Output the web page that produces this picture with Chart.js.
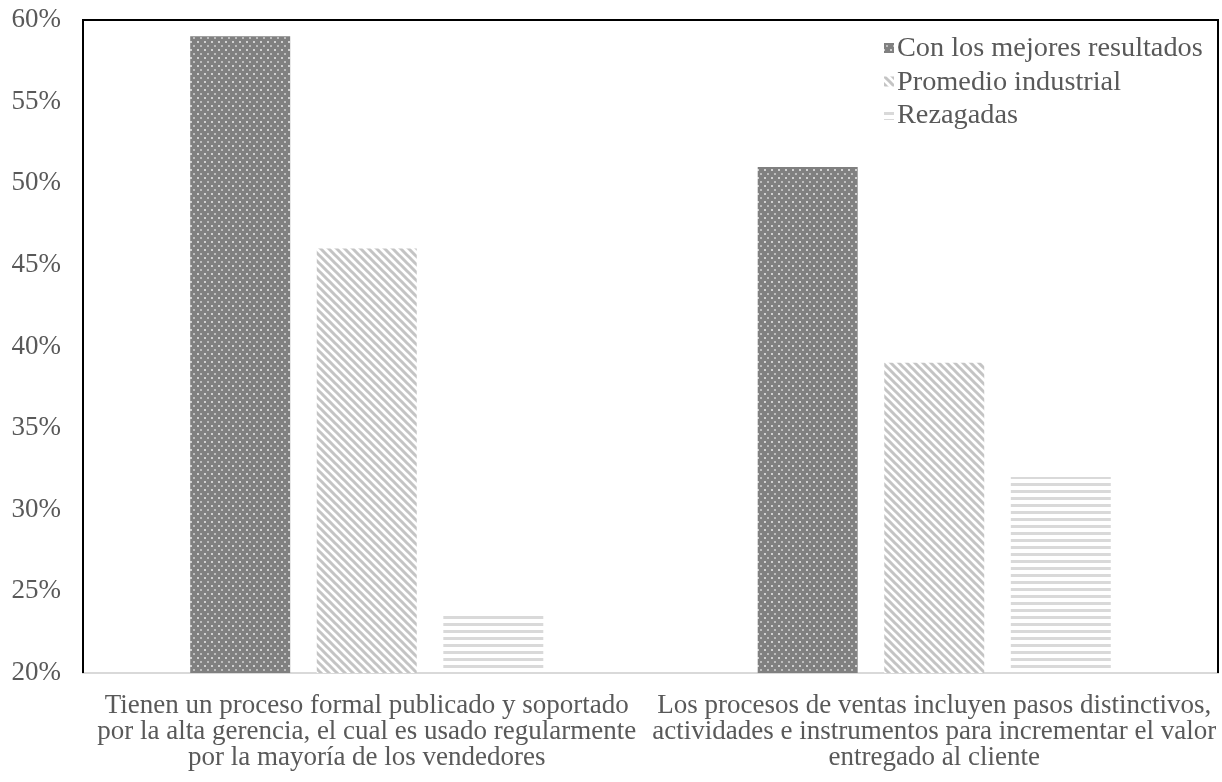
<!DOCTYPE html>
<html lang="es">
<head>
    <meta charset="UTF-8">
    <title>Procesos de ventas</title>
    <script src="https://cdn.jsdelivr.net/npm/chart.js@4.4.0/dist/chart.umd.min.js"></script>
    <style>
        html, body { margin: 0; padding: 0; background: #ffffff; }
        #wrap { width: 1222px; height: 782px; position: relative; }
    </style>
</head>
<body>
    <div id="wrap">
        <canvas id="grafico"></canvas>
    </div>

    <script>
        // datos
        const categorias = [
            ['Tienen un proceso formal publicado y soportado', 'por la alta gerencia, el cual es usado regularmente', 'por la mayoría de los vendedores'],
            ['Los procesos de ventas incluyen pasos distinctivos,', 'actividades e instrumentos para incrementar el valor', 'entregado al cliente']
        ];
        const series = ['Con los mejores resultados', 'Promedio industrial', 'Rezagadas'];
        const mejores = [59, 51];
        const promedio = [46, 39];
        const rezagadas = [23.7, 32];
        const ticksY = [20, 25, 30, 35, 40, 45, 50, 55, 60];

        const fuente = "'Liberation Serif', 'Times New Roman', serif";
        const gris = '#595959';

        // tramas de relleno
        function trama(w, h, dibujar) {
            const c = document.createElement('canvas');
            c.width = w; c.height = h;
            const g = c.getContext('2d');
            dibujar(g);
            return g.createPattern(c, 'repeat');
        }
        const puntos = trama(7, 8, g => {
            g.fillStyle = '#808080';
            g.fillRect(0, 0, 7, 8);
            g.fillStyle = '#d0d0d0';
            g.fillRect(1, 1, 2, 2);
            g.fillStyle = '#bdbdbd';
            g.fillRect(4, 5, 2, 2);
        });
        const diagonal = trama(8, 8, g => {
            g.fillStyle = '#ffffff';
            g.fillRect(0, 0, 8, 8);
            g.strokeStyle = '#c4c4c4';
            g.lineWidth = 3;
            g.beginPath();
            g.moveTo(-2, -2); g.lineTo(10, 10);
            g.moveTo(-10, -2); g.lineTo(2, 10);
            g.moveTo(6, -2); g.lineTo(18, 10);
            g.stroke();
        });
        const rayas = trama(6, 7, g => {
            g.fillStyle = '#ffffff';
            g.fillRect(0, 0, 6, 7);
            g.fillStyle = '#d9d9d9';
            g.fillRect(0, 0, 6, 3);
        });
        const rellenos = [puntos, diagonal, rayas];

        // marco negro del area de trazado
        const marco = {
            id: 'marco',
            afterDatasetsDraw(chart) {
                const a = chart.chartArea;
                const ctx = chart.ctx;
                ctx.save();
                ctx.strokeStyle = '#000000';
                ctx.lineWidth = 2;
                ctx.beginPath();
                ctx.moveTo(a.left, a.bottom);
                ctx.lineTo(a.left, a.top);
                ctx.lineTo(a.right, a.top);
                ctx.lineTo(a.right, a.bottom);
                ctx.stroke();
                ctx.restore();
            }
        };

        // leyenda vertical dentro del area
        const leyenda = {
            id: 'leyenda',
            afterDraw(chart) {
                const ctx = chart.ctx;
                ctx.save();
                ctx.font = '28.3px ' + fuente;
                ctx.textBaseline = 'middle';
                series.forEach((nombre, i) => {
                    const y = 48 + i * 33.5;
                    ctx.fillStyle = rellenos[i];
                    ctx.fillRect(884, y - 5, 10, 10);
                    ctx.fillStyle = gris;
                    ctx.fillText(nombre, 897, y + 1);
                });
                ctx.restore();
            }
        };

        const ctx = document.getElementById('grafico').getContext('2d');
        new Chart(ctx, {
            type: 'bar',
            data: {
                labels: categorias,
                datasets: [
                    { label: series[0], data: mejores, backgroundColor: puntos },
                    { label: series[1], data: promedio, backgroundColor: diagonal },
                    { label: series[2], data: rezagadas, backgroundColor: rayas }
                ]
            },
            options: {
                responsive: true,
                maintainAspectRatio: false,
                animation: false,
                layout: { padding: { top: 20, right: 4, left: 0, bottom: 0 } },
                datasets: {
                    bar: { categoryPercentage: 0.669, barPercentage: 0.79, borderWidth: 0 }
                },
                plugins: {
                    legend: { display: false },
                    tooltip: { enabled: false }
                },
                scales: {
                    x: {
                        grid: { display: false, drawTicks: false },
                        border: { display: true, color: '#d9d9d9', width: 2 },
                        ticks: {
                            color: gris,
                            font: { family: fuente, size: 27, lineHeight: '26px' },
                            padding: 20,
                            maxRotation: 0,
                            autoSkip: false
                        },
                        afterFit(scale) {
                            scale.height = 109;
                            scale.paddingLeft = 0;
                            scale.paddingRight = 0;
                        }
                    },
                    y: {
                        min: 20,
                        max: 60,
                        afterBuildTicks(scale) { scale.ticks = ticksY.map(v => ({ value: v })); },
                        grid: { display: false, drawTicks: false },
                        border: { display: false },
                        ticks: {
                            color: gris,
                            font: { family: fuente, size: 27 },
                            padding: 22,
                            callback: v => v + '%'
                        },
                        afterFit(scale) {
                            scale.width = 83;
                            scale.paddingTop = 0;
                            scale.paddingBottom = 0;
                        }
                    }
                }
            },
            plugins: [marco, leyenda]
        });
    </script>
</body>
</html>
